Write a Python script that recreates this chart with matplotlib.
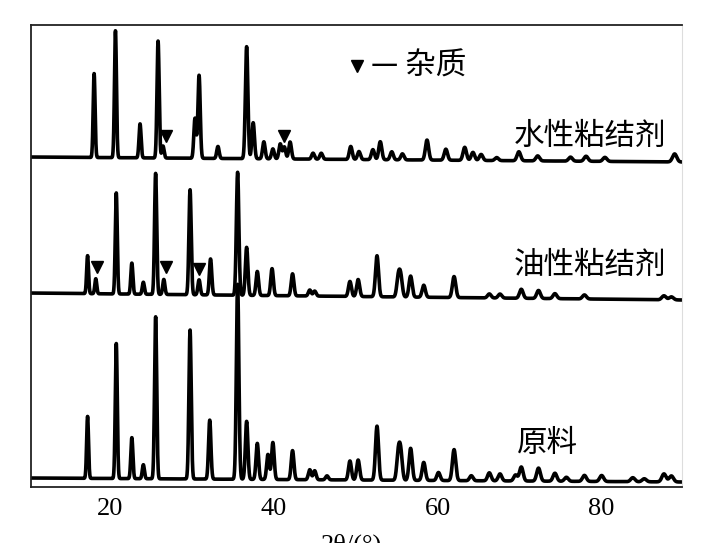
import numpy as np
import matplotlib
matplotlib.use('Agg')
import matplotlib.pyplot as plt

# peak positions (2theta, deg) and heights for each pattern
raw_pos = [17.3, 20.8, 22.7, 24.1, 25.6, 29.8, 32.2, 35.6, 36.7, 38.0, 39.3, 39.9,
           42.3, 44.4, 45.0, 46.5, 49.3, 50.3, 52.6, 55.2, 55.5, 56.7, 58.3, 60.1,
           62.0, 64.1, 66.3, 67.6, 69.5, 70.2, 72.3, 74.3, 75.7, 77.9, 80.0, 83.8,
           85.2, 87.6, 88.5]
raw_h = [62, 135, 41, 14, 162, 149, 59, 195, 58, 36, 25, 37,
         29, 10, 9, 4, 19, 20, 54, 26, 26, 32, 18, 8,
         31, 5, 8, 7, 6, 14, 13, 8, 4, 6, 6, 4,
         3, 8, 6]

oil_pos = [17.3, 18.3, 20.8, 22.7, 24.1, 25.6, 26.6, 29.8, 30.9, 32.3, 35.6, 36.7,
           38.0, 39.8, 42.3, 44.4, 45.0, 49.3, 50.3, 52.6, 55.2, 55.5, 56.7, 58.3,
           62.0, 66.3, 67.6, 70.2, 72.3, 74.3, 77.9, 87.6, 88.5]
oil_h = [38, 15, 101, 31, 12, 121, 15, 105, 15, 36, 123, 48,
         24, 27, 22, 6, 5, 15, 17, 41, 19, 19, 21, 12,
         21, 4, 4, 9, 8, 5, 4, 4, 3]

water_pos = [18.1, 20.7, 23.7, 25.9, 26.5, 30.4, 30.9, 33.2, 36.7, 37.5, 38.8, 39.9,
             40.8, 41.3, 42.0, 44.8, 45.8, 49.4, 50.4, 52.1, 53.0, 54.4, 55.7, 58.7,
             61.0, 63.3, 64.3, 65.3, 67.2, 69.9, 72.2, 76.2, 78.1, 80.4, 88.9]
water_h = [84, 127, 34, 117, 12, 40, 83, 12, 112, 36, 17, 10,
           15, 12, 17, 6, 6, 13, 8, 10, 18, 8, 6, 20,
           11, 13, 8, 6, 3, 9, 5, 4, 5, 4, 8]

# baseline levels (left, right)
raw_base = (9, 5)
oil_base = (194, 187)
water_base = (330, 325)

# impurity marks
oil_mark_x = [18.45, 26.9, 30.85]
oil_mark_y = [220, 220, 218]
water_mark_x = [26.9, 41.3]
water_mark_y = [351, 351]
legend_mark = (50.1, 421)

labels = ['水性粘结剂', '油性粘结剂', '原料']
xticks = [20, 40, 60, 80]

x = np.linspace(10, 90, 6000)


def pattern(pos, h, base):
    y = base[0] + (base[1] - base[0]) * (x - 10) / 80
    for p, a in zip(pos, h):
        w = 0.1 + 0.002 * (p - 10)
        y = y + a * np.exp(-0.5 * ((x - p) / w) ** 2)
    return y


fig = plt.figure(figsize=(7.16, 5.43), dpi=100)
ax = fig.add_axes([31 / 716, 1 - 487 / 543, 651 / 716, 462 / 543])

for pos, h, base in [(raw_pos, raw_h, raw_base), (oil_pos, oil_h, oil_base),
                     (water_pos, water_h, water_base)]:
    ax.plot(x, pattern(pos, h, base), color='black', lw=2.6, solid_joinstyle='round')

ax.plot(oil_mark_x, oil_mark_y, 'v', color='black', ms=8, ls='none')
ax.plot(water_mark_x, water_mark_y, 'v', color='black', ms=8, ls='none')
ax.plot([legend_mark[0]], [legend_mark[1]], 'v', color='black', ms=8)

ax.set_xlim(10.4, 89.8)
ax.set_ylim(0, 462)
ax.set_xticks(xticks)
ax.set_xticklabels([str(t) for t in xticks], family='Liberation Serif', fontsize=19)
ax.tick_params(axis='x', length=0, pad=8)
ax.set_yticks([])
for s in ['left', 'bottom', 'top']:
    ax.spines[s].set_color('#222222')
    ax.spines[s].set_linewidth(1.3)
ax.spines['right'].set_color('#dddddd')

cjk = ['Noto Sans CJK SC', 'DejaVu Sans']
fig.text(666 / 716, 1 - 136 / 543, labels[0], ha='right', va='center', family=cjk,
         fontsize=22, fontweight='medium')
fig.text(666 / 716, 1 - 265 / 543, labels[1], ha='right', va='center', family=cjk,
         fontsize=22, fontweight='medium')
fig.text(578 / 716, 1 - 444 / 543, labels[2], ha='right', va='center', family=cjk,
         fontsize=22, fontweight='medium')

# legend text
fig.text(371 / 716, 1 - 66 / 543, '— 杂质', ha='left', va='center', family=cjk,
         fontsize=22, fontweight='medium')

fig.text(352 / 716, 1 - 534 / 543, '2θ/(°)', ha='center', va='top',
         family='Liberation Serif', fontsize=19)

fig.savefig('out.png', dpi=100)
